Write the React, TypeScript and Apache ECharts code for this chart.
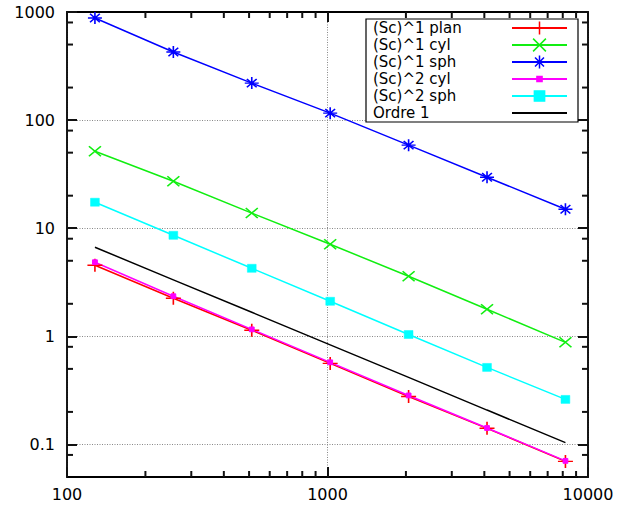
import React, { useEffect, useRef } from "react";
import * as echarts from "echarts";

const xValues = [128, 256, 512, 1024, 2048, 4096, 8192];
const plan1 = [4.54, 2.25, 1.14, 0.562, 0.278, 0.141, 0.0697];
const cyl1 = [51.6, 27.2, 13.8, 7.1, 3.6, 1.78, 0.88];
const sph1 = [880, 427, 220, 116, 58.7, 29.6, 15];
const cyl2 = [4.85, 2.35, 1.16, 0.575, 0.284, 0.142, 0.0705];
const sph2 = [17.4, 8.6, 4.26, 2.11, 1.04, 0.516, 0.261];
const ordre1 = [6.67, 3.33, 1.67, 0.833, 0.417, 0.208, 0.104];

const names = ["(Sc)^1 plan", "(Sc)^1 cyl", "(Sc)^1 sph", "(Sc)^2 cyl", "(Sc)^2 sph", "Ordre 1"];
const xMinor = [200, 300, 400, 500, 600, 700, 800, 900, 2000, 3000, 4000, 5000, 6000, 7000, 8000, 9000];
const yMinor = [0.08, 0.2, 0.5, 0.8, 2, 5, 8, 20, 50, 80, 200, 500, 800];

const FONT = "DejaVu Sans";

const SYM_PLUS = "path://M5,0L5,10M0,5L10,5";
const SYM_CROSS = "path://M0,0L10,10M0,10L10,0";
const SYM_STAR = "path://M5,0L5,10M0,5L10,5M1.5,1.5L8.5,8.5M1.5,8.5L8.5,1.5";
const SYM_SMALLSQ = "path://M0,0M10,10M3,3L7,3L7,7L3,7Z";
const SYM_SQ = "path://M0,0M10,10M1,1L9,1L9,9L1,9Z";

function pairs(ys: number[]) {
  return xValues.map((x, i) => [x, ys[i]]);
}

export default function App() {
  const ref = useRef<HTMLDivElement>(null);
  useEffect(() => {
    if (!ref.current) return;
    const chart = echarts.init(ref.current, null, { renderer: "svg" });
    const mk = (name: string, data: number[], color: string, symbol: string, size: any, extra: any = {}) => ({
      type: "line",
      name,
      data: pairs(data),
      symbol,
      symbolSize: size,
      showSymbol: true,
      lineStyle: { color, width: 1.5 },
      itemStyle: { color, borderColor: color, borderWidth: 1.5 },
      emphasis: { disabled: true },
      z: 3,
      ...extra,
    });
    const axisCommon = {
      type: "log",
      logBase: 10,
      axisLine: { show: true, onZero: false, lineStyle: { color: "#000", width: 1.8 } },
      axisTick: { show: true, inside: true, length: 10, lineStyle: { color: "#111", width: 2 } },
    };
    const tickStyle = { stroke: "#111", lineWidth: 2 };
    const option: any = {
      animation: false,
      backgroundColor: "#fff",
      grid: { left: 67, right: 42, top: 12, bottom: 29, containLabel: false },
      legend: {
        show: true,
        orient: "vertical",
        align: "right",
        left: 366,
        top: 19,
        padding: [1, 10, 1, 7],
        itemGap: 1,
        itemWidth: 55,
        itemHeight: 16,
        borderColor: "#000",
        borderWidth: 1.2,
        borderRadius: 0,
        backgroundColor: "#fff",
        selectedMode: false,
        itemStyle: { borderWidth: 1.5 },
        formatter: (n: string) => `{a|${n}}`,
        textStyle: {
          fontFamily: FONT,
          fontSize: 15,
          color: "#000",
          lineHeight: 16,
          rich: { a: { width: 134, height: 16, align: "left", fontFamily: FONT, fontSize: 15, lineHeight: 16, color: "#000" } },
        },
        data: [
          { name: names[0] },
          { name: names[1] },
          { name: names[2] },
          { name: names[3] },
          { name: names[4] },
          { name: names[5], itemStyle: { opacity: 0 } },
        ],
        z: 10,
      },
      xAxis: [
        {
          ...axisCommon,
          position: "bottom",
          min: 100,
          max: 10000,
          axisLabel: { margin: 9, fontFamily: FONT, fontSize: 16, color: "#000", formatter: (v: number) => String(v) },
          splitLine: { show: true, lineStyle: { color: "#888", width: 1, type: [1, 1.5] } },
        },
        {
          ...axisCommon,
          position: "top",
          min: 100,
          max: 10000,
          axisLabel: { show: false },
          splitLine: { show: false },
        },
      ],
      yAxis: [
        {
          ...axisCommon,
          position: "left",
          min: 0.05,
          max: 1000,
          axisLabel: {
            margin: 12,
            fontFamily: FONT,
            fontSize: 16,
            color: "#000",
            showMinLabel: false,
            formatter: (v: number) => String(v),
          },
          splitLine: { show: true, lineStyle: { color: "#888", width: 1, type: [1, 1.5] } },
        },
        {
          ...axisCommon,
          position: "right",
          min: 0.05,
          max: 1000,
          axisLabel: { show: false },
          splitLine: { show: false },
        },
      ],
      series: [
        mk(names[0], plan1, "#ff0000", SYM_PLUS, [15, 13]),
        mk(names[1], cyl1, "#11ee11", SYM_CROSS, [12, 10]),
        mk(names[2], sph1, "#0000ff", SYM_STAR, [14, 12]),
        mk(names[3], cyl2, "#ff00ff", SYM_SMALLSQ, [12, 12], { itemStyle: { color: "#ff00ff", borderColor: "#ff00ff", borderWidth: 1 } }),
        mk(names[4], sph2, "#00ffff", SYM_SQ, [11, 10], { itemStyle: { color: "#00ffff", borderColor: "#00ffff", borderWidth: 0.5 } }),
        {
          type: "line",
          name: names[5],
          data: pairs(ordre1),
          symbol: "none",
          showSymbol: false,
          lineStyle: { color: "#000", width: 1.5 },
          itemStyle: { color: "#000" },
          emphasis: { disabled: true },
          z: 3,
        },
        {
          type: "custom",
          silent: true,
          clip: false,
          data: xMinor.map((v) => [v, 1]),
          encode: { x: 0, y: 1 },
          renderItem: (params: any, api: any) => {
            const p = api.coord([api.value(0), 1]);
            const cs = params.coordSys;
            return {
              type: "group",
              children: [
                { type: "line", shape: { x1: p[0], y1: cs.y + cs.height, x2: p[0], y2: cs.y + cs.height - 6 }, style: tickStyle },
                { type: "line", shape: { x1: p[0], y1: cs.y, x2: p[0], y2: cs.y + 6 }, style: tickStyle },
              ],
            };
          },
          z: 4,
        },
        {
          type: "custom",
          silent: true,
          clip: false,
          data: yMinor.map((v) => [1000, v]),
          encode: { x: 0, y: 1 },
          renderItem: (params: any, api: any) => {
            const p = api.coord([1000, api.value(1)]);
            const cs = params.coordSys;
            return {
              type: "group",
              children: [
                { type: "line", shape: { x1: cs.x, y1: p[1], x2: cs.x + 6, y2: p[1] }, style: tickStyle },
                { type: "line", shape: { x1: cs.x + cs.width, y1: p[1], x2: cs.x + cs.width - 6, y2: p[1] }, style: tickStyle },
              ],
            };
          },
          z: 4,
        },
      ],
    };
    chart.setOption(option);
    return () => chart.dispose();
  }, []);
  return <div ref={ref} style={{ position: "fixed", left: 0, top: 0, width: 630, height: 506 }} />;
}
